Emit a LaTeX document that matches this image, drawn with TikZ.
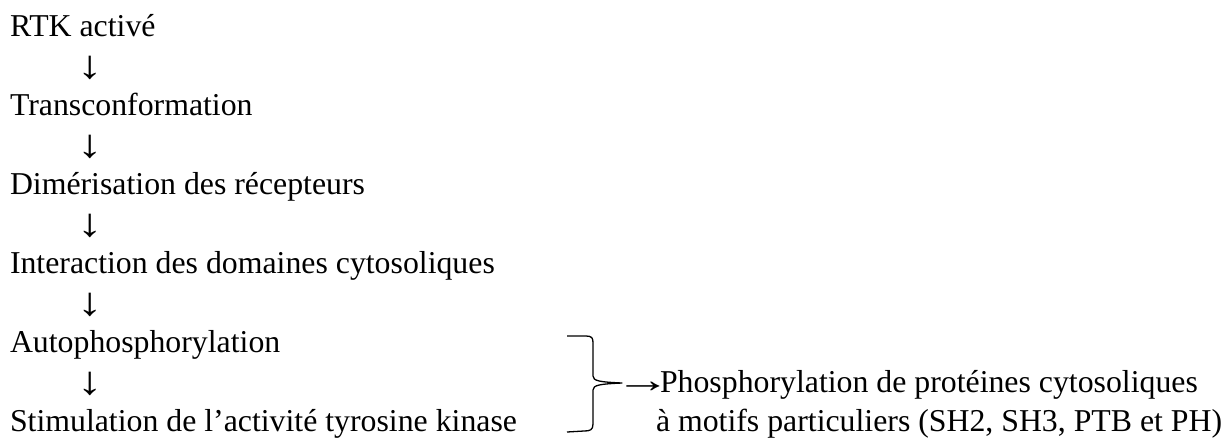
\documentclass[tikz,border=0pt]{standalone}
\usepackage{fontspec}
\setmainfont{Liberation Serif}
\begin{document}
\begin{tikzpicture}[x=1pt,y=-1pt,
  txt/.style={inner sep=0pt,outer sep=0pt,anchor=base west,font=\fontsize{31.8}{38}\selectfont},
  darr/.style={inner sep=0pt,outer sep=0pt,anchor=base,font=\fontsize{31.8}{38}\selectfont},
  bracestyle/.style={draw=black,line width=1.3pt,line join=round}]
\useasboundingbox (0,0) rectangle (1228,437);
\newcommand{\dnarrow}{\scalebox{1.6}[1.25]{↓}}
\node[txt] (rtk) at (10,36) {RTK activé};
\node[darr] (a1) at (90,78) {\dnarrow};
\node[txt] (trans) at (10,115) {Transconformation};
\node[darr] (a2) at (90,157) {\dnarrow};
\node[txt] (dim) at (10,194) {Dimérisation des récepteurs};
\node[darr] (a3) at (90,236) {\dnarrow};
\node[txt] (inter) at (10,273) {Interaction des domaines cytosoliques};
\node[darr] (a4) at (90,315) {\dnarrow};
\node[txt] (auto) at (10,352) {Autophosphorylation};
\node[darr] (a5) at (90,394) {\dnarrow};
\node[txt] (stim) at (10,431) {Stimulation de l’activité tyrosine kinase};
% brace
\coordinate (btop) at (567,336);
\coordinate (btip) at (622,383);
\coordinate (bbot) at (567,432);
\draw[bracestyle] (btop) -- (586,336) .. controls (592,336) and (593,338) .. (593,343)
  -- (593,376) .. controls (593,381) and (600,382) .. (btip)
  .. controls (600,384) and (593,385) .. (593,390)
  -- (593,424) .. controls (593,430) and (590,431) .. (584,431) -- (bbot);
\node[txt] (ph1) at (626,392) {\makebox[34pt]{\scalebox{1.75}[1.15]{→}}Phosphorylation de protéines cytosoliques};
\node[txt] (ph2) at (656,431) {à motifs particuliers (SH2, SH3, PTB et PH)};
\end{tikzpicture}
\end{document}
